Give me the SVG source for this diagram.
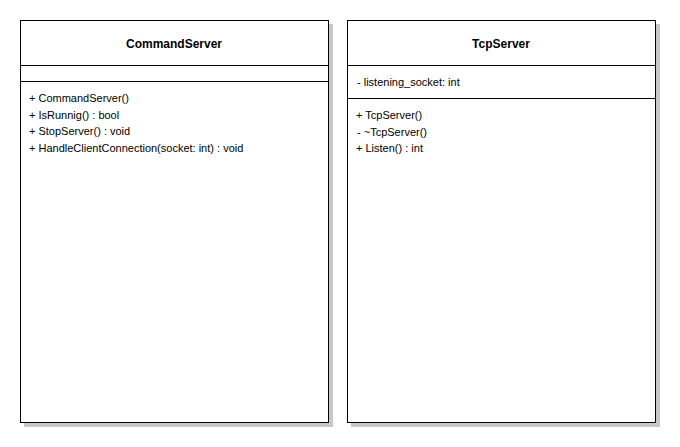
<svg xmlns="http://www.w3.org/2000/svg" width="680" height="447" viewBox="0 0 680 447">
<style>
.shadow{fill:#c8c8c8}
.box{fill:#fff;stroke:#000;stroke-width:1}
.div{stroke:#000;stroke-width:1}
.title{font-family:"Liberation Sans",Arial,sans-serif;font-size:12px;font-weight:bold;text-anchor:middle;fill:#000}
.mem{font-family:"Liberation Sans",Arial,sans-serif;font-size:11px;fill:#000}
</style>
<rect width="680" height="447" fill="#fff"/>
<g id="CommandServer">
<rect class="shadow" x="24" y="24" width="309" height="403"/>
<rect class="box" x="20.5" y="20.5" width="308" height="402"/>
<line class="div" x1="20.5" y1="65.5" x2="328.5" y2="65.5"/>
<line class="div" x1="20.5" y1="81.5" x2="328.5" y2="81.5"/>
<text class="title" x="174" y="47.5">CommandServer</text>
<text class="mem" x="29" y="102">+ CommandServer()</text>
<text class="mem" x="29" y="118.5">+ IsRunnig() : bool</text>
<text class="mem" x="29" y="135">+ StopServer() : void</text>
<text class="mem" x="29" y="151.5">+ HandleClientConnection(socket: int) : void</text>
</g>
<g id="TcpServer">
<rect class="shadow" x="351" y="24" width="309" height="403"/>
<rect class="box" x="347.5" y="20.5" width="308" height="402"/>
<line class="div" x1="347.5" y1="65.5" x2="655.5" y2="65.5"/>
<line class="div" x1="347.5" y1="98.5" x2="655.5" y2="98.5"/>
<text class="title" x="501" y="47.5">TcpServer</text>
<text class="mem" x="357" y="86">- listening_socket: int</text>
<text class="mem" x="356" y="119">+ TcpServer()</text>
<text class="mem" x="357" y="135.5">- ~TcpServer()</text>
<text class="mem" x="356" y="152">+ Listen() : int</text>
</g>
<g id="connectors"></g>
</svg>
